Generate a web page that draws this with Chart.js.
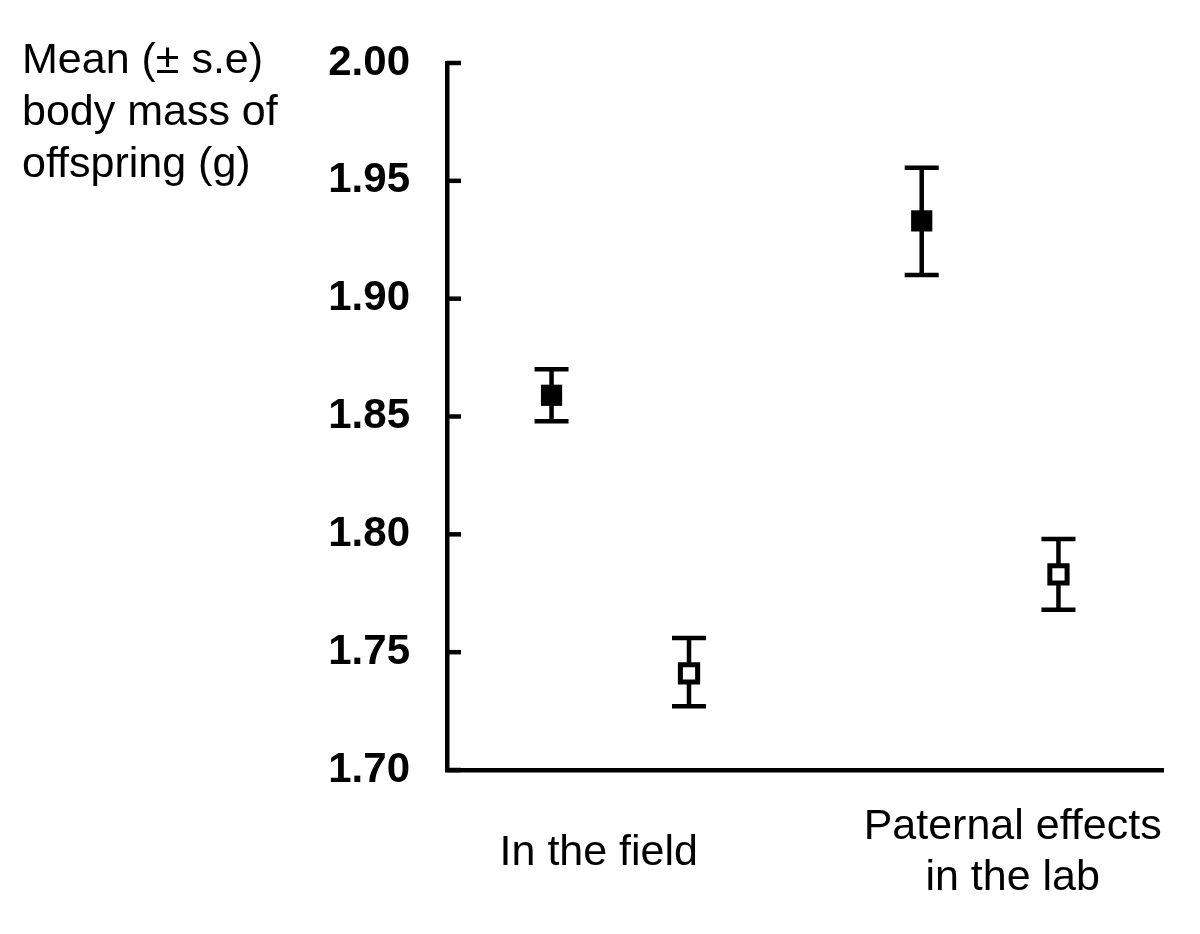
<!DOCTYPE html>
<html>
<head>
<meta charset="utf-8">
<script src="https://cdn.jsdelivr.net/npm/chart.js@4.4.1/dist/chart.umd.min.js"></script>
<style>
  body { margin: 0; background: #fff; }
  #wrap { width: 1200px; height: 934px; position: relative; }
</style>
</head>
<body>
<div id="wrap"><canvas id="chart"></canvas></div>
<script>
// Data
const categories = ['In the field', ['Paternal effects', 'in the lab']];
const categoryPos = [2.12, 7.90];
const yTicks = [1.70, 1.75, 1.80, 1.85, 1.90, 1.95, 2.00];
const yTitle = ['Mean (\u00b1 s.e)', 'body mass of', 'offspring (g)'];

// filled squares
const filledX = [1.46, 6.63];
const filledMean = [1.859, 1.933];
const filledHi = [1.870, 1.9555];
const filledLo = [1.848, 1.910];

// open squares
const openX = [3.38, 8.54];
const openMean = [1.741, 1.783];
const openHi = [1.756, 1.798];
const openLo = [1.727, 1.768];

const FONT = '"Liberation Sans", Arial, sans-serif';

// error bars, drawn under the markers
const errorBars = {
    id: 'errorBars',
    beforeDatasetsDraw(chart) {
        const { ctx, scales: { x, y } } = chart;
        const sets = [[filledX, filledHi, filledLo], [openX, openHi, openLo]];
        ctx.save();
        ctx.strokeStyle = '#000';
        ctx.lineWidth = 4.5;
        sets.forEach(([xs, his, los]) => {
            xs.forEach((xv, i) => {
                const px = x.getPixelForValue(xv);
                const top = y.getPixelForValue(his[i]);
                const bot = y.getPixelForValue(los[i]);
                ctx.beginPath();
                ctx.moveTo(px, top); ctx.lineTo(px, bot);
                ctx.moveTo(px - 17, top); ctx.lineTo(px + 17, top);
                ctx.moveTo(px - 17, bot); ctx.lineTo(px + 17, bot);
                ctx.stroke();
            });
        });
        ctx.restore();
    }
};

// inward tick marks on the y axis + the horizontal axis title
const axisExtras = {
    id: 'axisExtras',
    afterDraw(chart) {
        const { ctx, chartArea, scales: { y } } = chart;
        ctx.save();
        ctx.strokeStyle = '#000';
        ctx.lineWidth = 4.5;
        y.ticks.forEach(t => {
            const py = y.getPixelForValue(t.value);
            ctx.beginPath();
            ctx.moveTo(chartArea.left, py);
            ctx.lineTo(chartArea.left + 14, py);
            ctx.stroke();
        });
        ctx.fillStyle = '#000';
        ctx.font = '43px ' + FONT;
        ctx.textAlign = 'left';
        ctx.textBaseline = 'alphabetic';
        yTitle.forEach((line, i) => ctx.fillText(line, 22, 73 + i * 52));
        ctx.restore();
    }
};

new Chart(document.getElementById('chart'), {
    type: 'scatter',
    data: {
        datasets: [
            {
                data: filledX.map((xv, i) => ({ x: xv, y: filledMean[i] })),
                pointStyle: 'rect',
                pointRadius: 15,
                pointBackgroundColor: '#000',
                pointBorderColor: '#000',
                pointBorderWidth: 0
            },
            {
                data: openX.map((xv, i) => ({ x: xv, y: openMean[i] })),
                pointStyle: 'rect',
                pointRadius: 12.2,
                pointBackgroundColor: '#fff',
                pointBorderColor: '#000',
                pointBorderWidth: 5
            }
        ]
    },
    options: {
        responsive: true,
        maintainAspectRatio: false,
        animation: false,
        layout: { padding: { top: 63, right: 37, left: 0, bottom: 0 } },
        plugins: { legend: { display: false }, tooltip: { enabled: false } },
        scales: {
            x: {
                type: 'linear',
                min: 0,
                max: 10,
                grid: { display: false, drawTicks: false },
                border: { display: true, color: '#000', width: 4.5 },
                afterBuildTicks: s => { s.ticks = categoryPos.map(v => ({ value: v })); },
                afterFit: s => { s.height = 164; s.paddingLeft = 0; s.paddingRight = 0; },
                ticks: {
                    color: '#000',
                    padding: 57,
                    maxRotation: 0,
                    autoSkip: false,
                    crossAlign: 'center',
                    font: { family: FONT, size: 43, lineHeight: 1.2 },
                    callback: (v, i) => categories[i]
                }
            },
            y: {
                min: 1.70,
                max: 2.00,
                grid: { display: false, drawTicks: false },
                border: { display: true, color: '#000', width: 4.5 },
                afterBuildTicks: s => { s.ticks = yTicks.map(v => ({ value: v })); },
                afterFit: s => { s.width = 447; s.paddingTop = 0; s.paddingBottom = 0; },
                ticks: {
                    color: '#000',
                    padding: 37,
                    font: { family: FONT, size: 42, weight: 'bold' },
                    callback: v => v.toFixed(2)
                }
            }
        }
    },
    plugins: [errorBars, axisExtras]
});
</script>
</body>
</html>
